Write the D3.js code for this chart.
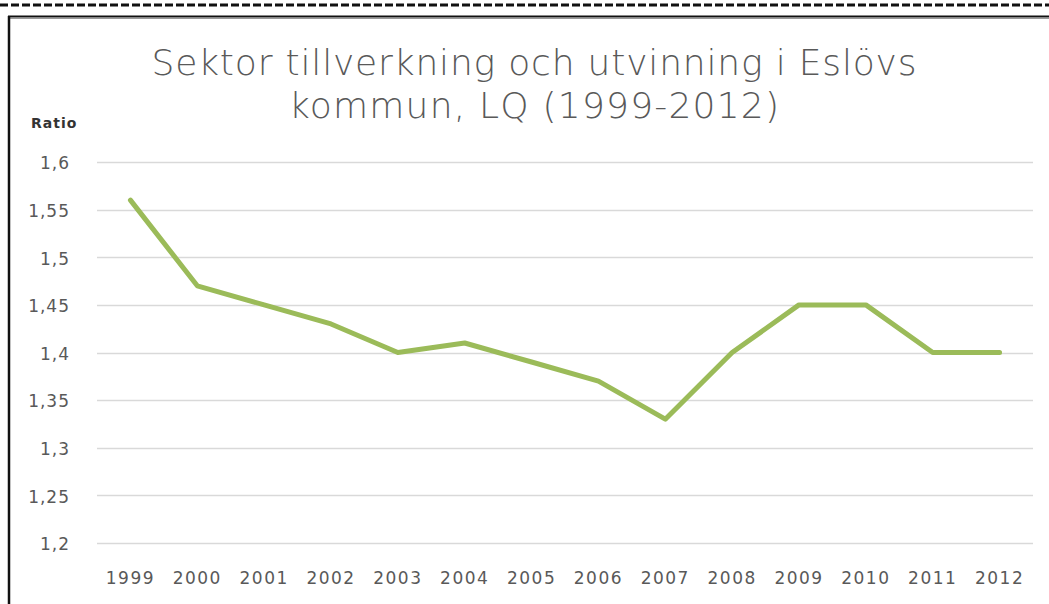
<!DOCTYPE html>
<html>
<head>
<meta charset="utf-8">
<script src="https://cdn.jsdelivr.net/npm/d3@7"></script>
<style>
  body { margin: 0; background: #fff; }
  svg { display: block; }
</style>
</head>
<body>
<div id="chart"></div>
<script>
const years = ["1999", "2000", "2001", "2002", "2003", "2004", "2005", "2006", "2007", "2008", "2009", "2010", "2011", "2012"];
const ratio = [1.56, 1.47, 1.45, 1.43, 1.40, 1.41, 1.39, 1.37, 1.33, 1.40, 1.45, 1.45, 1.40, 1.40];
const yTicks = [1.2, 1.25, 1.3, 1.35, 1.4, 1.45, 1.5, 1.55, 1.6];
const titleLines = ["Sektor tillverkning och utvinning i Eslövs", "kommun, LQ (1999-2012)"];
const titleWidths = [765, 490];

const width = 1049, height = 604;
const margin = { left: 97, right: 16, top: 162, bottom: 61 };

const svg = d3.select("#chart").append("svg")
    .attr("width", width)
    .attr("height", height);

// dashed top edge and frame
svg.append("line")
    .attr("x1", 0).attr("x2", width).attr("y1", 5).attr("y2", 5)
    .attr("stroke", "#111").attr("stroke-width", 3)
    .attr("stroke-dasharray", "8,3");
svg.append("line")
    .attr("x1", 8).attr("x2", width).attr("y1", 16.5).attr("y2", 16.5)
    .attr("stroke", "#111").attr("stroke-width", 2);
svg.append("line")
    .attr("x1", 8).attr("x2", width).attr("y1", 18.5).attr("y2", 18.5)
    .attr("stroke", "#999").attr("stroke-width", 1);
svg.append("line")
    .attr("x1", 9).attr("x2", 9).attr("y1", 16).attr("y2", height)
    .attr("stroke", "#111").attr("stroke-width", 2.5);

const x = d3.scaleBand()
    .domain(years)
    .range([margin.left, width - margin.right]);

const y = d3.scaleLinear()
    .domain([1.2, 1.6])
    .range([height - margin.bottom, margin.top]);

const fmt = d => d3.format("~g")(d).replace(".", ",");

// gridlines
svg.append("g")
    .selectAll("line")
    .data(yTicks)
    .join("line")
    .attr("x1", margin.left).attr("x2", width - margin.right)
    .attr("y1", d => Math.round(y(d)) + 0.5).attr("y2", d => Math.round(y(d)) + 0.5)
    .attr("stroke", "#d9d9d9").attr("stroke-width", 1.5);

// y axis labels
const yAxis = svg.append("g")
    .attr("transform", `translate(${margin.left},0)`)
    .call(d3.axisLeft(y).tickValues(yTicks).tickFormat(fmt).tickSize(0).tickPadding(27));
yAxis.select(".domain").remove();
yAxis.selectAll("text")
    .attr("fill", "#595959")
    .attr("dy", "0.4em")
    .style("font-family", "'DejaVu Sans', sans-serif")
    .style("font-size", "17px")
    .style("letter-spacing", "1px");

// x axis labels
const xAxis = svg.append("g")
    .attr("transform", `translate(0,${height - margin.bottom})`)
    .call(d3.axisBottom(x).tickSize(0).tickPadding(29));
xAxis.select(".domain").remove();
xAxis.selectAll("text")
    .attr("fill", "#595959")
    .style("font-family", "'DejaVu Sans', sans-serif")
    .style("font-size", "17px")
    .style("letter-spacing", "1.5px");

// line
const line = d3.line()
    .x((d, i) => x(years[i]) + x.bandwidth() / 2)
    .y(d => y(d));

svg.append("path")
    .datum(ratio)
    .attr("d", line)
    .attr("fill", "none")
    .attr("stroke", "#9bbb59")
    .attr("stroke-width", 5)
    .attr("stroke-linejoin", "round")
    .attr("stroke-linecap", "round");

// title
svg.append("g")
    .selectAll("text")
    .data(titleLines)
    .join("text")
    .attr("x", 534)
    .attr("y", (d, i) => 75 + i * 43)
    .attr("text-anchor", "middle")
    .attr("fill", "#595959")
    .attr("textLength", (d, i) => titleWidths[i])
    .attr("lengthAdjust", "spacing")
    .style("font-family", "'DejaVu Sans', sans-serif")
    .style("font-size", "36px")
    .style("font-weight", 300)
    .text(d => d);

svg.append("text")
    .attr("x", 31).attr("y", 128)
    .attr("fill", "#333")
    .style("font-family", "'DejaVu Sans', sans-serif")
    .style("font-size", "14px")
    .style("font-weight", 600)
    .style("letter-spacing", "1px")
    .text("Ratio");
</script>
</body>
</html>
